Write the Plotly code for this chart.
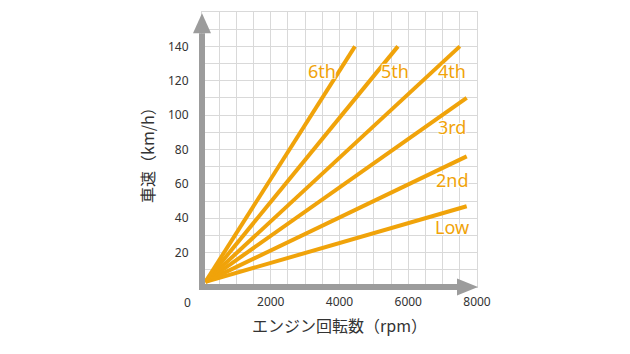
import plotly.graph_objects as go

# ---- data ----
gears = ["Low", "2nd", "3rd", "4th", "5th", "6th"]
start_rpm = 100
start_speed = 3
end_rpm = [7700, 7700, 7700, 7500, 5700, 4450]
end_speed = [47, 76, 110, 140, 140, 140]

label_rpm = [7280, 7280, 7280, 7280, 5620, 3490]
label_speed = [35, 62.5, 93, 125.5, 125.5, 125.5]

x_tickvals = [i * 500 for i in range(17)]
x_ticktext = [str(v) if v in (2000, 4000, 6000, 8000) else "" for v in x_tickvals]
y_tickvals = [i * 10 for i in range(17)]
y_ticktext = [str(v) if v in (20, 40, 60, 80, 100, 120, 140) else "" for v in y_tickvals]

ORANGE = "#F0A30A"
GRAY = "#9c9c9c"
GRID = "#d9d9d9"
FONT = "Noto Sans CJK JP, Noto Sans, sans-serif"

fig = go.Figure()
for g, ex, ey in zip(gears, end_rpm, end_speed):
    fig.add_trace(go.Scatter(x=[start_rpm, ex], y=[start_speed, ey], mode="lines",
                             line=dict(color=ORANGE, width=4), name=g,
                             showlegend=False, cliponaxis=False))

for g, lx, ly in zip(gears, label_rpm, label_speed):
    fig.add_annotation(x=lx, y=ly, xref="x", yref="y", text=g, showarrow=False,
                       xanchor="center", yanchor="middle",
                       font=dict(family="Noto Sans, sans-serif", size=18, color=ORANGE,
                                 shadow="1px 1px 1px white, -1px -1px 1px white, 1px -1px 1px white, -1px 1px 1px white"))

# Plot area geometry (pixels) used for decorative arrows
L, R, T, B = 202, 477, 11.7, 287.5
W, H = R - L, B - T

def px(x):
    return (x - L) / W

def py(y):
    return (B - y) / H

# y axis arrow
fig.add_shape(type="line", xref="paper", yref="paper", x0=px(202), x1=px(202),
              y0=py(290.5), y1=py(33), line=dict(color=GRAY, width=6), layer="above")
fig.add_shape(type="path", xref="paper", yref="paper",
              path=f"M {px(193)} {py(33)} L {px(211)} {py(33)} L {px(202)} {py(13)} Z",
              fillcolor=GRAY, line=dict(width=0), layer="above")
# x axis arrow
fig.add_shape(type="line", xref="paper", yref="paper", x0=px(199), x1=px(458),
              y0=py(287.5), y1=py(287.5), line=dict(color=GRAY, width=6), layer="above")
fig.add_shape(type="path", xref="paper", yref="paper",
              path=f"M {px(457)} {py(279)} L {px(457)} {py(296)} L {px(478)} {py(287.5)} Z",
              fillcolor=GRAY, line=dict(width=0), layer="above")

fig.add_annotation(xref="paper", yref="paper", x=px(187), y=py(303), text="0",
                   showarrow=False, xanchor="center", yanchor="middle",
                   font=dict(family="Noto Sans, sans-serif", size=12, color="#333"))

fig.add_annotation(xref="paper", yref="paper", x=px(147), y=py(151), text="車速（km/h）",
                   textangle=-90, showarrow=False, xanchor="center", yanchor="middle",
                   font=dict(family=FONT, size=16, color="#333"))
fig.add_annotation(xref="paper", yref="paper", x=px(339), y=py(326), text="エンジン回転数（rpm）",
                   showarrow=False, xanchor="center", yanchor="middle",
                   font=dict(family=FONT, size=16, color="#333"))

fig.update_xaxes(range=[0, 8000], tickmode="array", tickvals=x_tickvals, ticktext=x_ticktext,
                 showgrid=True, gridcolor=GRID, gridwidth=1, zeroline=False,
                 showline=True, linecolor=GRID, linewidth=1, mirror=True,
                 ticks="", ticklabelstandoff=4,
                 tickfont=dict(family="Noto Sans, sans-serif", size=12, color="#333"))
fig.update_yaxes(range=[0, 160], tickmode="array", tickvals=y_tickvals, ticktext=y_ticktext,
                 showgrid=True, gridcolor=GRID, gridwidth=1, zeroline=False,
                 showline=True, linecolor=GRID, linewidth=1, mirror=True,
                 ticks="", ticklabelstandoff=10,
                 tickfont=dict(family="Noto Sans, sans-serif", size=12, color="#333"))

fig.update_layout(width=630, height=354, margin=dict(l=L, r=630 - R, t=T, b=354 - B),
                  plot_bgcolor="white", paper_bgcolor="white")

fig.write_html("out.html")
